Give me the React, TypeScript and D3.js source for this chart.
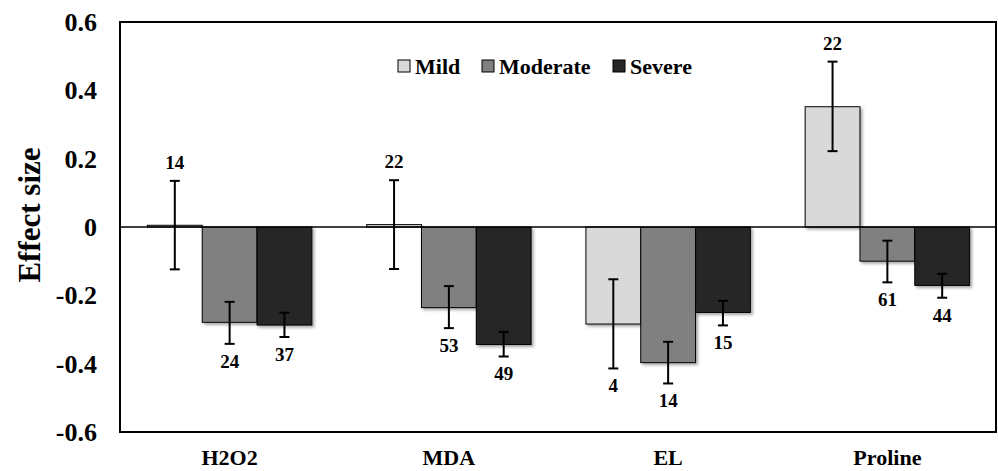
import * as d3 from "d3";

const categories = ["H2O2", "MDA", "EL", "Proline"];
const seriesNames = ["Mild", "Moderate", "Severe"];
const seriesColors = ["#d9d9d9", "#808080", "#262626"];

const mild = [0.005, 0.007, -0.284, 0.352];
const moderate = [-0.279, -0.236, -0.397, -0.1];
const severe = [-0.287, -0.344, -0.25, -0.171];

const mildLow = [-0.124, -0.123, -0.414, 0.222];
const mildHigh = [0.135, 0.137, -0.153, 0.484];
const moderateLow = [-0.342, -0.296, -0.458, -0.162];
const moderateHigh = [-0.219, -0.173, -0.336, -0.04];
const severeLow = [-0.322, -0.379, -0.288, -0.207];
const severeHigh = [-0.251, -0.307, -0.216, -0.137];

const mildN = [14, 22, 4, 22];
const moderateN = [24, 53, 14, 61];
const severeN = [37, 49, 15, 44];

const yTicks = [0.6, 0.4, 0.2, 0, -0.2, -0.4, -0.6];

const W = 998;
const H = 471;
const left = 120;
const right = 997;
const top = 22;
const bottom = 432;
const font = "Liberation Serif, Times New Roman, DejaVu Serif, serif";

function App() {
  const values = [mild, moderate, severe];
  const lows = [mildLow, moderateLow, severeLow];
  const highs = [mildHigh, moderateHigh, severeHigh];
  const counts = [mildN, moderateN, severeN];

  const x = d3.scaleBand<string>().domain(categories).range([left, right]).padding(0);
  const xs = d3
    .scaleBand<string>()
    .domain(seriesNames)
    .range([0, x.bandwidth()])
    .paddingInner(0)
    .paddingOuter(0.5);
  const y = d3.scaleLinear().domain([-0.6, 0.6]).range([bottom, top]);

  const fmt = (v: number) => (v === 0 ? "0" : d3.format(".1f")(v).replace("\u2212", "-"));

  const legendX = [398, 482, 613];
  const txt = { fontFamily: font, fontWeight: "bold" as const };

  return (
    <div style={{ position: "absolute", left: 0, top: 0 }}>
      <svg width={W} height={H} style={{ display: "block", background: "#fff" }}>
        <defs>
          <filter id="shadow" x="-20%" y="-20%" width="140%" height="140%">
            <feDropShadow dx="2" dy="2" stdDeviation="1.8" floodColor="#000" floodOpacity="0.35" />
          </filter>
        </defs>
        <rect x={0} y={0} width={W} height={H} fill="#fff" />

        {/* y tick labels */}
        {yTicks.map((t) => (
          <text key={t} x={97} y={y(t) + 9} textAnchor="end" style={txt} fontSize={26} fill="#000">
            {fmt(t)}
          </text>
        ))}

        {/* y title */}
        <text
          transform={`translate(40,215) rotate(-90)`}
          textAnchor="middle"
          style={txt}
          fontSize={31}
          fill="#000"
        >
          Effect size
        </text>

        {/* bars */}
        {values.map((vals, si) =>
          vals.map((v, ci) => {
            const bx = (x(categories[ci]) as number) + (xs(seriesNames[si]) as number);
            const y0 = y(0);
            const yv = y(v);
            return (
              <rect
                key={`b${si}-${ci}`}
                x={bx}
                y={Math.min(y0, yv)}
                width={xs.bandwidth()}
                height={Math.max(Math.abs(yv - y0), 1)}
                fill={seriesColors[si]}
                stroke="#000"
                strokeWidth={1}
                filter="url(#shadow)"
              />
            );
          })
        )}

        {/* zero line */}
        <line x1={left} x2={right} y1={y(0)} y2={y(0)} stroke="#000" strokeWidth={1.5} />

        {/* error bars + counts */}
        {values.map((vals, si) =>
          vals.map((v, ci) => {
            const cx =
              (x(categories[ci]) as number) + (xs(seriesNames[si]) as number) + xs.bandwidth() / 2;
            const yl = y(lows[si][ci]);
            const yh = y(highs[si][ci]);
            const above = v > 0;
            return (
              <g key={`e${si}-${ci}`} stroke="#000" strokeWidth={2}>
                <line x1={cx} x2={cx} y1={yh} y2={yl} />
                <line x1={cx - 5} x2={cx + 5} y1={yh} y2={yh} />
                <line x1={cx - 5} x2={cx + 5} y1={yl} y2={yl} />
                <text
                  x={cx}
                  y={above ? yh - 12 : yl + 24}
                  textAnchor="middle"
                  style={txt}
                  fontSize={19}
                  fill="#000"
                  stroke="none"
                >
                  {counts[si][ci]}
                </text>
              </g>
            );
          })
        )}

        {/* frame */}
        <rect
          x={left}
          y={top}
          width={right - left - 1}
          height={bottom - top}
          fill="none"
          stroke="#000"
          strokeWidth={2}
        />

        {/* category labels */}
        {categories.map((c) => (
          <text
            key={c}
            x={(x(c) as number) + x.bandwidth() / 2}
            y={465}
            textAnchor="middle"
            style={txt}
            fontSize={22}
            fill="#000"
          >
            {c}
          </text>
        ))}

        {/* legend */}
        {seriesNames.map((s, i) => (
          <g key={s}>
            <rect
              x={legendX[i]}
              y={60}
              width={12}
              height={12}
              fill={seriesColors[i]}
              stroke="#000"
              strokeWidth={1}
            />
            <text x={legendX[i] + 17} y={74} style={txt} fontSize={22} fill="#000">
              {s}
            </text>
          </g>
        ))}
      </svg>
    </div>
  );
}

export default App;
